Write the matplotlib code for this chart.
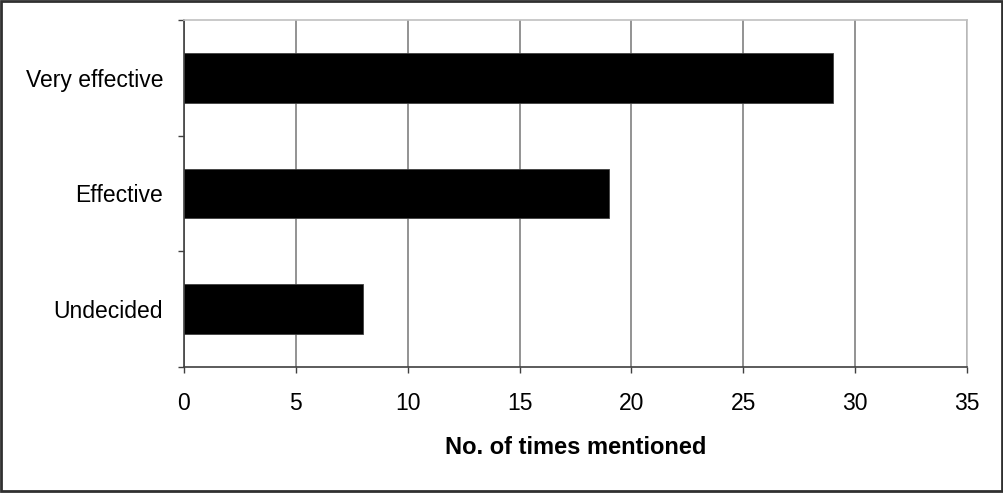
import matplotlib
matplotlib.use("Agg")

import matplotlib.pyplot as plt
from matplotlib.patches import Rectangle

# Survey responses: how often each rating was mentioned
categories = ["Undecided", "Effective", "Very effective"]
counts = [8, 19, 29]
x_ticks = [0, 5, 10, 15, 20, 25, 30, 35]

plt.rcParams["font.family"] = ["Liberation Sans", "DejaVu Sans"]

W, H = 1004, 493
fig = plt.figure(figsize=(W / 100, H / 100), dpi=100)
fig.patch.set_facecolor("white")

# Plot area in pixel coordinates
left, right, top, bottom = 184, 967, 20, 366.7
ax = fig.add_axes([left / W, 1 - bottom / H, (right - left) / W, (bottom - top) / H])

ypos = range(len(categories))
ax.barh(ypos, counts, height=0.43, color="black", edgecolor="#404040", linewidth=0.6, zorder=3)

ax.set_xlim(0, 35)
ax.set_ylim(-0.5, len(categories) - 0.5)
ax.set_xticks(x_ticks)
ax.set_xticklabels([str(t) for t in x_ticks], fontsize=16.5)

# category ticks sit on the band boundaries, labels in the middle
ax.set_yticks([i - 0.5 for i in range(len(categories) + 1)])
ax.set_yticklabels([])
ax.set_yticks(list(ypos), minor=True)
ax.set_yticklabels(categories, minor=True, fontsize=16.5)
ax.tick_params(axis="y", which="minor", length=0, pad=15)
ax.tick_params(axis="y", which="major", length=4.5, width=1, color="#404040", direction="out")
ax.tick_params(axis="x", length=4.5, width=1, color="#404040", direction="out", pad=14)

ax.xaxis.grid(True, color="#808080", linewidth=1.2, zorder=0)
ax.set_axisbelow(True)

ax.spines["left"].set_color("#404040")
ax.spines["bottom"].set_color("#404040")
ax.spines["left"].set_linewidth(1.2)
ax.spines["bottom"].set_linewidth(1.2)
ax.spines["top"].set_color("#c0c0c0")
ax.spines["right"].set_color("#c0c0c0")
ax.spines["top"].set_linewidth(1.2)
ax.spines["right"].set_linewidth(1.2)

ax.set_xlabel("No. of times mentioned", fontsize=17, fontweight="bold", labelpad=15)

# chart border around the whole figure
fig.patches.append(Rectangle((1 / W, 2 / H), 1 - 3 / W, 1 - 3 / H, transform=fig.transFigure,
                             fill=False, edgecolor="#303030", linewidth=2))

fig.savefig("out.png", dpi=100)
